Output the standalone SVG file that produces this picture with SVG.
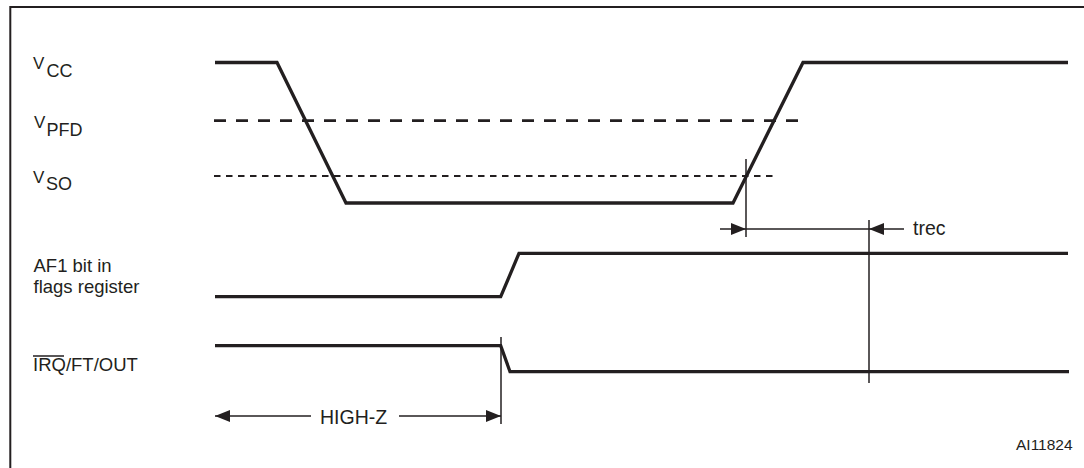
<svg xmlns="http://www.w3.org/2000/svg" width="1084" height="468" viewBox="0 0 1084 468">
  <style>
    .frame { stroke: #231f20; stroke-width: 2; fill: none; }
    .sig { stroke: #231f20; stroke-width: 3.3; fill: none; stroke-linejoin: miter; }
    .pfd { stroke: #231f20; stroke-width: 2.7; fill: none; stroke-dasharray: 12 10; }
    .so { stroke: #231f20; stroke-width: 2; fill: none; stroke-dasharray: 6.5 5.5; }
    .thin { stroke: #231f20; stroke-width: 1.5; fill: none; }
    .lbl { font-family: "Liberation Sans", Arial, sans-serif; font-size: 18.5px; fill: #231f20; }
    .vl { font-family: "Liberation Sans", Arial, sans-serif; font-size: 17px; fill: #231f20; }
    .sub { font-family: "Liberation Sans", Arial, sans-serif; font-size: 18px; fill: #231f20; }
    .dim { font-family: "Liberation Sans", Arial, sans-serif; font-size: 19.5px; fill: #231f20; }
    .ref { font-family: "Liberation Sans", Arial, sans-serif; font-size: 15.5px; fill: #231f20; }
  </style>
  <defs>
    <marker id="arrow" markerUnits="userSpaceOnUse" viewBox="0 0 15 12" refX="15" refY="6" markerWidth="15" markerHeight="12" orient="auto">
      <path d="M0,0 L15,6 L0,12 z" fill="#231f20"/>
    </marker>
  </defs>
  <rect width="1084" height="468" fill="#ffffff"/>

  <g id="frame">
    <path class="frame" d="M10.3,468 L10.3,7 L1084,7"/>
  </g>

  <g id="vcc">
    <text class="vl" x="33" y="69">V</text>
    <text class="sub" x="46.5" y="77">CC</text>
    <path class="sig" d="M215,62.5 L277,62.5 L346,203 L733,203 L803,62.5 L1068,62.5"/>
  </g>

  <g id="vpfd">
    <text class="vl" x="34" y="128">V</text>
    <text class="sub" x="46.5" y="136">PFD</text>
    <line class="pfd" x1="214" y1="120.7" x2="800" y2="120.7"/>
  </g>

  <g id="vso">
    <text class="vl" x="33" y="183">V</text>
    <text class="sub" x="46" y="190">SO</text>
    <line class="so" x1="214" y1="176" x2="773" y2="176"/>
  </g>

  <g id="af1">
    <text class="lbl" x="33.5" y="271.7">AF1 bit in</text>
    <text class="lbl" x="33.5" y="293.3">flags register</text>
    <path class="sig" d="M215,296.7 L500.7,296.7 L519,253.3 L1068,253.3"/>
  </g>

  <g id="irq">
    <text class="lbl" x="33" y="371">IRQ/FT/OUT</text>
    <line class="thin" x1="33" y1="356" x2="64" y2="356" stroke-width="1.3"/>
    <path class="sig" d="M215,345.7 L500.7,345.7 L510,371.7 L1069,371.7"/>
  </g>

  <g id="connectors">
    <line class="thin" x1="746" y1="159" x2="746" y2="237"/>
    <line class="thin" x1="869" y1="220" x2="869" y2="383"/>
    <line class="thin" x1="501" y1="337" x2="501" y2="424"/>
    <line class="thin" x1="720" y1="229" x2="746" y2="229" marker-end="url(#arrow)"/>
    <line class="thin" x1="746" y1="229" x2="869" y2="229"/>
    <line class="thin" x1="904" y1="229" x2="869" y2="229" marker-end="url(#arrow)"/>
    <line class="thin" x1="311" y1="416" x2="215" y2="416" marker-end="url(#arrow)"/>
    <line class="thin" x1="399" y1="416" x2="501" y2="416" marker-end="url(#arrow)"/>
  </g>

  <g id="trec-label">
    <text class="dim" x="913" y="235">trec</text>
  </g>

  <g id="highz-label">
    <text class="dim" x="320" y="424">HIGH-Z</text>
  </g>

  <g id="ref-label">
    <text class="ref" x="1016" y="450">AI11824</text>
  </g>
</svg>
